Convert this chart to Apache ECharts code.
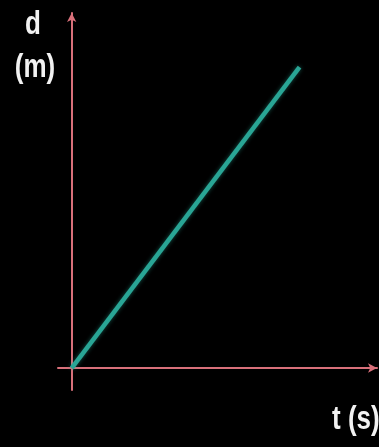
<!DOCTYPE html>
<html>
<head>
<meta charset="UTF-8">
<title>distance vs time</title>
<script src="https://cdn.jsdelivr.net/npm/echarts@6/dist/echarts.min.js"></script>
<style>
  html, body { margin: 0; padding: 0; background: #000; }
</style>
</head>
<body>
<div id="main" style="width:379px;height:447px;"></div>
<script>
// data: straight line through origin (uniform motion)
var times = [0, 10];
var distances = [0, 10];
var xLabel = 't (s)';
var yLabel = ['d', '(m)'];

var axisColor = '#d8707a';
var lineColor = '#29a595';
var labelFont = 'bold 26px "Liberation Sans", Arial, sans-serif';

var chart = echarts.init(document.getElementById('main'));

var points = times.map(function (t, i) { return [t, distances[i]]; });

function axisStyle(min, max) {
  return {
    type: 'value',
    min: min,
    max: max,
    splitLine: { show: false },
    axisTick: { show: false },
    axisLabel: { show: false },
    axisLine: {
      onZero: true,
      symbol: ['none', 'arrow'],
      symbolSize: [7, 9],
      lineStyle: { color: axisColor, width: 2 }
    }
  };
}

var option = {
  backgroundColor: '#000',
  animation: false,
  grid: { left: 58, right: 2, top: 13, bottom: 57 },
  xAxis: axisStyle(-0.6, 13.4),
  yAxis: axisStyle(-0.73, 11.8),
  series: [{
    type: 'line',
    data: points,
    showSymbol: false,
    lineStyle: { color: lineColor, width: 4.5, shadowColor: 'rgba(41,165,149,0.5)', shadowBlur: 4 }
  }],
  graphic: [
    {
      type: 'text', x: 33, y: 25, scaleY: 1.25,
      style: { text: yLabel[0], fill: '#f2f2f2', font: labelFont, textAlign: 'center', textVerticalAlign: 'middle' }
    },
    {
      type: 'text', x: 35, y: 68, scaleY: 1.25,
      style: { text: yLabel[1], fill: '#f2f2f2', font: labelFont, textAlign: 'center', textVerticalAlign: 'middle' }
    },
    {
      type: 'text', x: 332, y: 420, scaleY: 1.25,
      style: { text: xLabel, fill: '#f2f2f2', font: labelFont, textAlign: 'left', textVerticalAlign: 'middle' }
    }
  ]
};

chart.setOption(option);
</script>
</body>
</html>
